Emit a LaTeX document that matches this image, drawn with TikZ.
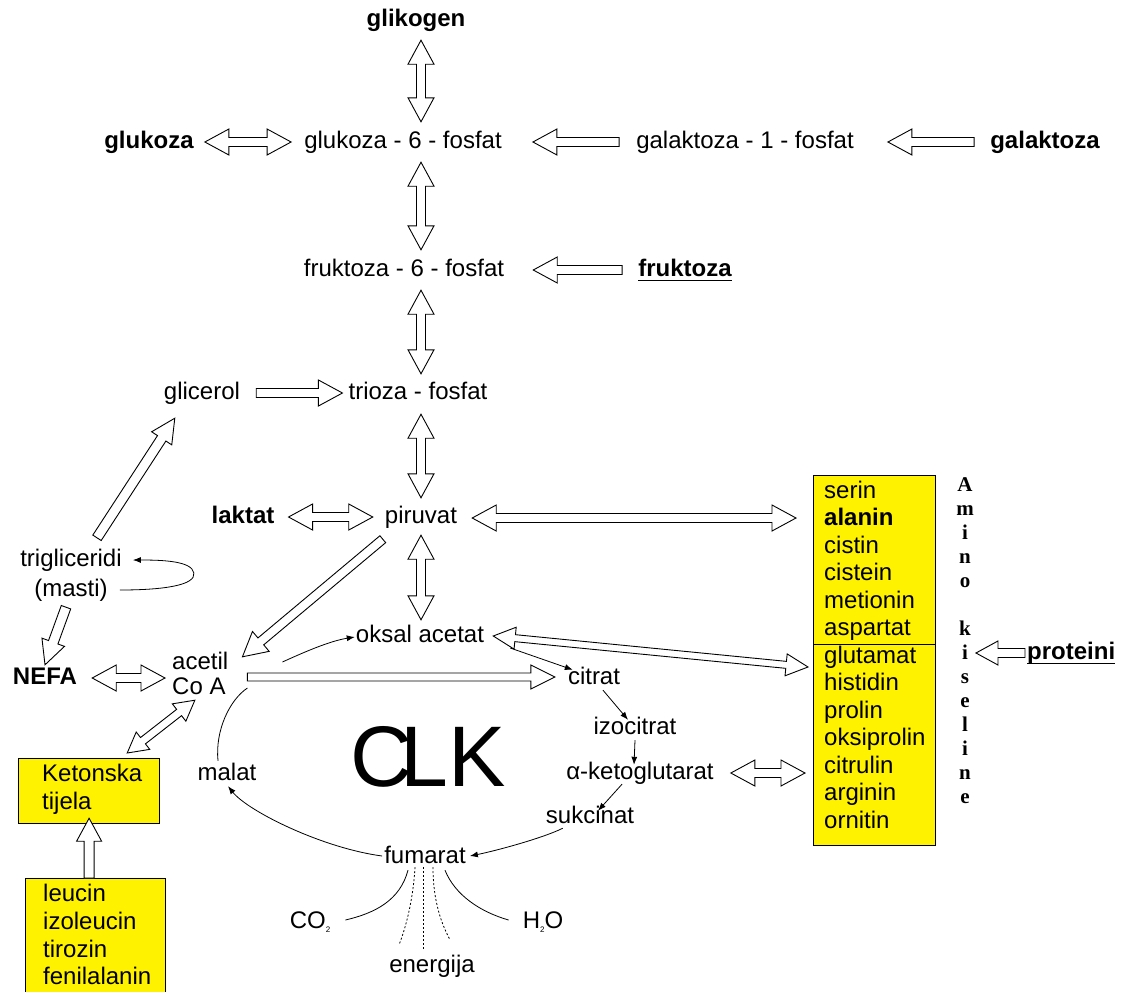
\documentclass[tikz,border=0pt]{standalone}
\usepackage{fontspec}
\setmainfont{Liberation Sans}
\newfontfamily\vserif{Liberation Serif}
\usetikzlibrary{calc,arrows.meta}

% underlined label
\newsavebox\ulbox
\newcommand\ulin[1]{\sbox\ulbox{#1}\rlap{\rule[-5pt]{\wd\ulbox}{1.3pt}}\usebox\ulbox}

% outlined block arrow, one head: from, to, shaft half width, head half width, head length
\newcommand\sarr[5]{%
  \path (#1) coordinate (tA) (#2) coordinate (tB);
  \path ($(tB)!#5pt!(tA)$) coordinate (tH);
  \draw[blk] ($(tA)!#3pt!90:(tB)$) -- ($(tH)!#3pt!90:(tB)$) -- ($(tH)!#4pt!90:(tB)$) -- (tB)
    -- ($(tH)!#4pt!-90:(tB)$) -- ($(tH)!#3pt!-90:(tB)$) -- ($(tA)!#3pt!-90:(tB)$) -- cycle;}

% outlined block arrow, two heads
\newcommand\darr[5]{%
  \path (#1) coordinate (tA) (#2) coordinate (tB);
  \path ($(tA)!#5pt!(tB)$) coordinate (tH1) ($(tB)!#5pt!(tA)$) coordinate (tH2);
  \draw[blk] (tA) -- ($(tH1)!#4pt!90:(tB)$) -- ($(tH1)!#3pt!90:(tB)$) -- ($(tH2)!#3pt!90:(tB)$)
    -- ($(tH2)!#4pt!90:(tB)$) -- (tB) -- ($(tH2)!#4pt!-90:(tB)$) -- ($(tH2)!#3pt!-90:(tB)$)
    -- ($(tH1)!#3pt!-90:(tB)$) -- ($(tH1)!#4pt!-90:(tB)$) -- cycle;}

\begin{document}
\begin{tikzpicture}[x=1pt,y=-1pt,
  lbl/.style={font=\fontsize{24}{27.5}\selectfont, inner sep=0pt, text height=17pt, text depth=5pt},
  blbl/.style={lbl, font=\fontsize{24}{27.5}\selectfont\bfseries},
  blk/.style={draw=black, line width=0.9pt, fill=white, line join=miter},
  cyc/.style={line width=0.8pt, -{Latex[length=8pt,width=6pt]}},
  thinl/.style={line width=0.8pt},
  dotl/.style={line width=0.8pt, dash pattern=on 2pt off 2pt},
  ybox/.style={draw=black, line width=1.2pt, fill=yellow, inner sep=0pt, anchor=north west}]

\useasboundingbox (0,0) rectangle (1127,991);
\clip (0,0) rectangle (1127,991);
\fill[white] (0,0) rectangle (1127,991);

% ---- labels ----
\node[blbl] (glik) at (416,20) {glikogen};
\node[blbl] (glukoza) at (149,142) {glukoza};
\node[lbl] (g6p) at (403,142) {glukoza - 6 - fosfat};
\node[lbl] (gal1p) at (745,142) {galaktoza - 1 - fosfat};
\node[blbl] (galaktoza) at (1045,142) {galaktoza};
\node[lbl] (f6p) at (404,270) {fruktoza - 6 - fosfat};
\node[blbl] (fruktoza) at (685,270) {\ulin{fruktoza}};
\node[lbl] (glicerol) at (202,393) {glicerol};
\node[lbl] (trioza) at (418,393) {trioza - fosfat};
\node[blbl] (laktat) at (243,517) {laktat};
\node[lbl] (piruvat) at (421,517) {piruvat};
\node[lbl] (trig) at (71,560) {trigliceridi};
\node[lbl] (masti) at (71,590) {(masti)};
\node[blbl] (nefa) at (45,678) {NEFA};
\node[lbl, anchor=west] (acetil) at (172,663) {acetil};
\node[lbl, anchor=west] (coa) at (172,688) {Co A};
\node[lbl] (oksal) at (420,636) {oksal acetat};
\node[lbl] (citrat) at (594,678) {citrat};
\node[lbl] (izocitrat) at (635,728) {izocitrat};
\node[lbl] (aketo) at (640,773) {α-ketoglutarat};
\node[lbl] (sukcinat) at (590,817) {sukcinat};
\node[lbl] (fumarat) at (425,857) {fumarat};
\node[lbl] (malat) at (227,774) {malat};
\node[lbl] (co2) at (310,922) {CO\raisebox{-4pt}{\fontsize{8}{8}\selectfont 2}};
\node[lbl] (h2o) at (543,922) {H\raisebox{-4pt}{\fontsize{8}{8}\selectfont 2}O};
\node[lbl] (energija) at (432,966) {energija};
\node[inner sep=0pt, font=\fontsize{86}{86}\selectfont] (clk) at (428,757) {C\kern-12pt LK};

% ---- amino acid boxes ----
\node[ybox, minimum width=122pt, minimum height=169pt] (aa1) at (813,475) {};
\node[ybox, minimum width=122pt, minimum height=201pt] (aa2) at (813,644) {};
\foreach \t [count=\i from 0] in {serin,\textbf{alanin},cistin,cistein,metionin,aspartat,glutamat,histidin,prolin,oksiprolin,citrulin,arginin,ornitin}
  \node[lbl, anchor=west] (am\i) at (824,{492+27.5*\i}) {\t};
\node[inner sep=0pt, align=center, font=\vserif\bfseries\fontsize{21}{24}\selectfont] (amino) at (965,641)
  {A\\m\\i\\n\\o\\\mbox{}\\k\\i\\s\\e\\l\\i\\n\\e};
\node[blbl, anchor=west] (proteini) at (1027,653) {\ulin{proteini}};

% ---- ketone boxes ----
\node[ybox, minimum width=141pt, minimum height=65pt] (ketbox) at (18,758) {};
\node[lbl, anchor=west] (ket1) at (42,775) {Ketonska};
\node[lbl, anchor=west] (ket2) at (42,803) {tijela};
\node[ybox, minimum width=140pt, minimum height=130pt] (leubox) at (25,878) {};
\node[lbl, anchor=west] (leu1) at (43,895) {leucin};
\node[lbl, anchor=west] (leu2) at (43,923) {izoleucin};
\node[lbl, anchor=west] (leu3) at (43,951) {tirozin};
\node[lbl, anchor=west] (leu4) at (43,978) {fenilalanin};

% ---- main vertical axis ----
\coordinate (ax) at (421,0);
\darr{$(glik.south -| ax)+(0,9)$}{$(g6p.north -| ax)+(0,-9)$}{4.5}{13}{24}
\darr{$(g6p.south -| ax)+(0,9)$}{$(f6p.north -| ax)+(0,-9)$}{4.5}{13}{24}
\darr{$(f6p.south -| ax)+(0,9)$}{$(trioza.north -| ax)+(0,-8)$}{4.5}{13}{24}
\darr{$(trioza.south -| ax)+(0,10)$}{$(piruvat.north -| ax)+(0,-8)$}{4.5}{13}{24}
\darr{$(piruvat.south -| ax)+(0,7)$}{$(oksal.north -| ax)+(0,-5)$}{4.5}{13}{24}

% ---- horizontal feeders ----
\darr{$(glukoza.east)+(11,0)$}{$(g6p.west)+(-13,0)$}{4.5}{13}{24}
\sarr{$(gal1p.west)+(-17,0)$}{$(g6p.east)+(31,0)$}{4.5}{13}{24}
\sarr{$(galaktoza.west)+(-16,0)$}{$(gal1p.east)+(34,0)$}{4.5}{13}{24}
\sarr{$(fruktoza.west)+(-16,0)$}{$(f6p.east)+(29,0)$}{4.5}{13}{24}
\sarr{$(glicerol.east)+(16,0)$}{$(trioza.west)+(-6,0)$}{4.5}{13}{24}
\darr{$(laktat.east)+(14,0)$}{$(piruvat.west)+(-12,0)$}{4.5}{13}{24}
\darr{$(piruvat.east)+(15,1)$}{$(piruvat.east -| aa1.west)+(-17,1)$}{4.5}{13}{24}
\darr{$(nefa.east)+(15,0)$}{$(nefa.east -| acetil.west)+(-7,0)$}{4.5}{13}{24}
\sarr{$(citrat.west -| acetil.east)+(19,-1)$}{$(citrat.west)+(-13,-1)$}{4}{12}{24}
\darr{$(oksal.east)+(9,0)$}{$(aa2.north west)+(-5,23)$}{3.5}{11}{22}
\darr{$(aketo.east)+(17,0)$}{$(aketo.east -| aa2.west)+(-8,0)$}{4.5}{13}{24}
\sarr{$(proteini.west)+(-2,0)$}{$(proteini.west -| amino.east)+(2,0)$}{4.5}{12}{22}

% ---- diagonal feeders ----
\sarr{$(piruvat.south west)+(-2,11)$}{$(acetil.north east)+(14,5)$}{4.5}{13}{24}
\sarr{$(trig.north)+(26,-11)$}{$(glicerol.south west)+(11,14)$}{5}{12}{24}
\sarr{$(masti.south)+(-5,6)$}{$(nefa.north)+(0,-2)$}{5}{12}{24}
\darr{$(ketbox.north east)+(-33,-5)$}{$(coa.south)+(-4,1)$}{4}{11}{20}
\sarr{$(leubox.north -| ketbox.south)$}{$(ketbox.south)+(0,-6)$}{5}{12.5}{23}

% ---- triglyceride loop ----
\coordinate (loopR) at ($(trig.east)+(72,13)$);
\draw[cyc] ($(masti.east)+(12,0)$) .. controls +(45,0) and +(2,12) .. (loopR)
  .. controls +(-2,-12) and +(30,0) .. ($(trig.east)+(11,0)$);

% ---- citric acid cycle ----
\draw[cyc] ($(acetil.east)+(54,-1)$) .. controls +(22,-10) and +(-25,4) .. ($(oksal.west)+(-1,1)$);
\draw[cyc] ($(oksal.east)+(26,12)$) -- ($(citrat.north west)+(5,3)$);
\draw[cyc] ($(citrat.south)+(9,1)$) -- ($(izocitrat.north)+(-7,3)$);
\draw[cyc] ($(izocitrat.south)+(0,1)$) -- ($(aketo.north)+(-6,3)$);
\draw[cyc] ($(aketo.south)+(-18,0)$) -- ($(sukcinat.north)+(8,5)$);
\draw[cyc] ($(sukcinat.south west)+(17,0)$) .. controls +(-20,10) and +(25,-5) .. ($(fumarat.east)+(4,-1)$);
\draw[cyc] ($(fumarat.west)+(-2,-1)$) .. controls +(-60,-8) and +(20,25) .. ($(malat.south)+(1,1)$);
\draw[thinl] ($(malat.north)+(-9,-2)$) .. controls +(-3,-30) and +(-18,12) .. ($(acetil.east |- coa.east)+(19,0)$);

% ---- products ----
\draw[thinl] ($(fumarat.south)+(-17,2)$) .. controls +(-8,30) and +(30,-7) .. ($(co2.east)+(15,-2)$);
\draw[thinl] ($(fumarat.south)+(20,2)$) .. controls +(10,25) and +(-28,-8) .. ($(h2o.west)+(-14,-2)$);
\draw[dotl] ($(fumarat.south)+(-10,-1)$) .. controls +(-2,35) and +(6,-15) .. ($(energija.north)+(-33,-10)$);
\draw[dotl] ($(fumarat.south)+(-2,-1)$) -- ($(energija.north)+(-9,-5)$);
\draw[dotl] ($(fumarat.south)+(8,-1)$) .. controls +(0,35) and +(-8,-15) .. ($(energija.north)+(18,-15)$);

\end{tikzpicture}
\end{document}
